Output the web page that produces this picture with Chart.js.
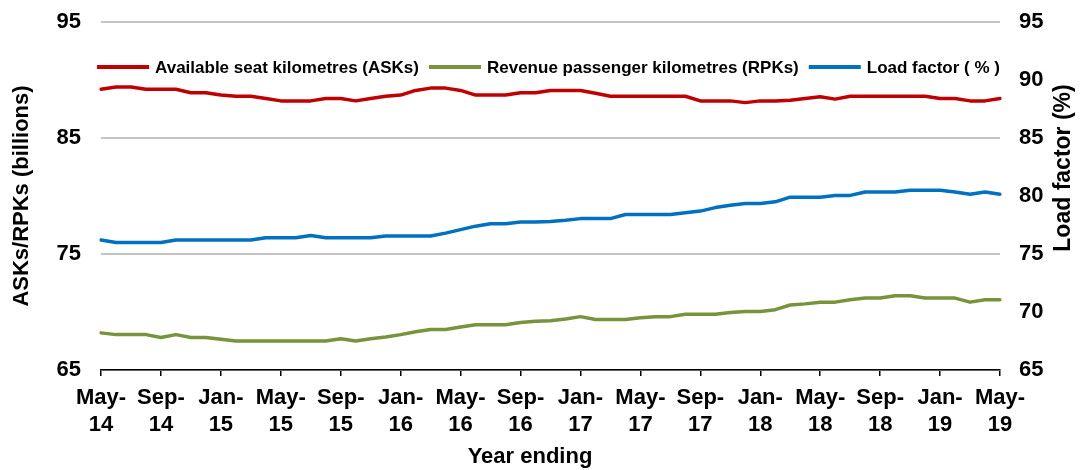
<!DOCTYPE html>
<html>
<head>
<meta charset="utf-8">
<script src="https://cdn.jsdelivr.net/npm/chart.js@4/dist/chart.umd.min.js"></script>
<style>
    html, body { margin: 0; padding: 0; background: #fff; }
    #wrap { width: 1082px; height: 470px; }
</style>
</head>
<body>
<div id="wrap"><canvas id="chart"></canvas></div>
<script>
const months = [
    'May-14', 'Jun-14', 'Jul-14', 'Aug-14', 'Sep-14', 'Oct-14', 'Nov-14', 'Dec-14',
    'Jan-15', 'Feb-15', 'Mar-15', 'Apr-15', 'May-15', 'Jun-15', 'Jul-15', 'Aug-15',
    'Sep-15', 'Oct-15', 'Nov-15', 'Dec-15', 'Jan-16', 'Feb-16', 'Mar-16', 'Apr-16',
    'May-16', 'Jun-16', 'Jul-16', 'Aug-16', 'Sep-16', 'Oct-16', 'Nov-16', 'Dec-16',
    'Jan-17', 'Feb-17', 'Mar-17', 'Apr-17', 'May-17', 'Jun-17', 'Jul-17', 'Aug-17',
    'Sep-17', 'Oct-17', 'Nov-17', 'Dec-17', 'Jan-18', 'Feb-18', 'Mar-18', 'Apr-18',
    'May-18', 'Jun-18', 'Jul-18', 'Aug-18', 'Sep-18', 'Oct-18', 'Nov-18', 'Dec-18',
    'Jan-19', 'Feb-19', 'Mar-19', 'Apr-19', 'May-19',
];

const asks = [
    89.2, 89.4, 89.4, 89.2, 89.2, 89.2, 88.9, 88.9, 88.7, 88.6, 88.6, 88.4,
    88.2, 88.2, 88.2, 88.4, 88.4, 88.2, 88.4, 88.6, 88.7, 89.1, 89.3, 89.3,
    89.1, 88.7, 88.7, 88.7, 88.9, 88.9, 89.1, 89.1, 89.1, 88.85, 88.6, 88.6,
    88.6, 88.6, 88.6, 88.6, 88.2, 88.2, 88.2, 88.05, 88.2, 88.2, 88.25, 88.4,
    88.55, 88.35, 88.6, 88.6, 88.6, 88.6, 88.6, 88.6, 88.4, 88.4, 88.2, 88.2, 88.4,
];

const rpks = [
    68.2, 68.05, 68.05, 68.05, 67.8, 68.05, 67.8, 67.8, 67.65, 67.5, 67.5, 67.5,
    67.5, 67.5, 67.5, 67.5, 67.7, 67.5, 67.7, 67.85, 68.05, 68.3, 68.5, 68.5,
    68.7, 68.9, 68.9, 68.9, 69.1, 69.2, 69.25, 69.4, 69.6, 69.35, 69.35, 69.35,
    69.5, 69.6, 69.6, 69.8, 69.8, 69.8, 69.95, 70.05, 70.05, 70.2, 70.6, 70.7,
    70.85, 70.85, 71.05, 71.2, 71.2, 71.4, 71.4, 71.2, 71.2, 71.2, 70.85, 71.05, 71.05,
];

const loadFactor = [
    76.2, 76.0, 76.0, 76.0, 76.0, 76.2, 76.2, 76.2, 76.2, 76.2, 76.2, 76.4,
    76.4, 76.4, 76.6, 76.4, 76.4, 76.4, 76.4, 76.55, 76.55, 76.55, 76.55, 76.8,
    77.1, 77.4, 77.6, 77.6, 77.75, 77.75, 77.8, 77.9, 78.05, 78.05, 78.05, 78.4,
    78.4, 78.4, 78.4, 78.55, 78.7, 79.0, 79.2, 79.35, 79.35, 79.5, 79.9, 79.9,
    79.9, 80.05, 80.05, 80.35, 80.35, 80.35, 80.5, 80.5, 80.5, 80.35, 80.15, 80.35, 80.15,
];

const seriesNames = ['Available seat kilometres (ASKs)', 'Revenue passenger kilometres (RPKs)', 'Load factor ( % )'];
const seriesColors = ['#c00000', '#77933c', '#0070c0'];

const FONT = "'Liberation Sans', Arial, sans-serif";

// legend sits inside the plot area; right and bottom titles drawn by hand
const overlayPlugin = {
    id: 'overlay',
    afterDraw(chart) {
        const { ctx, chartArea } = chart;
        ctx.save();
        ctx.font = `bold 17px ${FONT}`;
        ctx.textBaseline = 'middle';
        const boxW = 52;
        const gap = 6;
        const spacing = 10;
        const widths = seriesNames.map((n) => boxW + gap + ctx.measureText(n).width);
        const total = widths.reduce((a, b) => a + b, 0) + spacing * (widths.length - 1);
        let x = (chartArea.left + chartArea.right) / 2 - total / 2 - 2;
        const y = chartArea.top + 45;
        seriesNames.forEach((name, i) => {
            ctx.fillStyle = seriesColors[i];
            ctx.fillRect(x, y - 2, boxW, 4);
            ctx.fillStyle = '#000';
            ctx.fillText(name, x + boxW + gap, y + 1);
            x += widths[i] + spacing;
        });

        ctx.font = `bold 22px ${FONT}`;
        ctx.textAlign = 'center';
        ctx.fillText('Year ending', chartArea.left + 429, chartArea.bottom + 87);

        ctx.font = `bold 23px ${FONT}`;
        ctx.translate(1064, chartArea.top + 146);
        ctx.rotate(-Math.PI / 2);
        ctx.fillText('Load factor (%)', 0, 0);
        ctx.restore();
    },
};

// tick padding would otherwise push the plot top down
function fitSide(width) {
    return (scale) => {
        scale.width = width;
        scale.paddingTop = 12;
        scale.paddingBottom = 12;
    };
}

new Chart(document.getElementById('chart'), {
    type: 'line',
    data: {
        labels: months,
        datasets: [
            { label: seriesNames[0], data: asks, borderColor: seriesColors[0], yAxisID: 'y' },
            { label: seriesNames[1], data: rpks, borderColor: seriesColors[1], yAxisID: 'y' },
            { label: seriesNames[2], data: loadFactor, borderColor: seriesColors[2], yAxisID: 'y2' },
        ],
    },
    options: {
        responsive: true,
        maintainAspectRatio: false,
        animation: false,
        layout: { padding: { top: 22, left: 0, right: 0, bottom: 0 } },
        elements: {
            line: { borderWidth: 3.5, tension: 0, borderCapStyle: 'round', borderJoinStyle: 'round' },
            point: { radius: 0 },
        },
        plugins: {
            legend: { display: false },
            tooltip: { enabled: false },
        },
        scales: {
            x: {
                offset: false,
                afterFit(scale) { scale.height = 100; },
                border: { display: true, color: '#000', width: 1.5 },
                grid: { drawOnChartArea: false, drawTicks: true, tickLength: 6, color: '#000', lineWidth: 1.5 },
                ticks: {
                    autoSkip: false,
                    maxRotation: 0,
                    padding: 9,
                    color: '#000',
                    font: { family: FONT, size: 22, weight: 'bold' },
                    callback(value, index) {
                        if (index % 4 !== 0) return null;
                        const [m, y] = months[index].split('-');
                        return [m + '-', y];
                    },
                },
            },
            y: {
                position: 'left',
                min: 65,
                max: 95,
                afterFit: fitSide(101),
                border: { display: false },
                grid: { color: '#c4c4c4', lineWidth: 2, drawTicks: false },
                ticks: {
                    stepSize: 10,
                    padding: 20,
                    color: '#000',
                    font: { family: FONT, size: 22, weight: 'bold' },
                },
                title: {
                    display: true,
                    text: 'ASKs/RPKs (billions)',
                    color: '#000',
                    font: { family: FONT, size: 22, weight: 'bold' },
                    padding: { top: 9, bottom: 0 },
                },
            },
            y2: {
                position: 'right',
                min: 65,
                max: 95,
                afterFit: fitSide(82),
                border: { display: false },
                grid: { drawOnChartArea: false, drawTicks: false },
                ticks: {
                    stepSize: 5,
                    padding: 19,
                    color: '#000',
                    font: { family: FONT, size: 22, weight: 'bold' },
                },
            },
        },
    },
    plugins: [overlayPlugin],
});
</script>
</body>
</html>
